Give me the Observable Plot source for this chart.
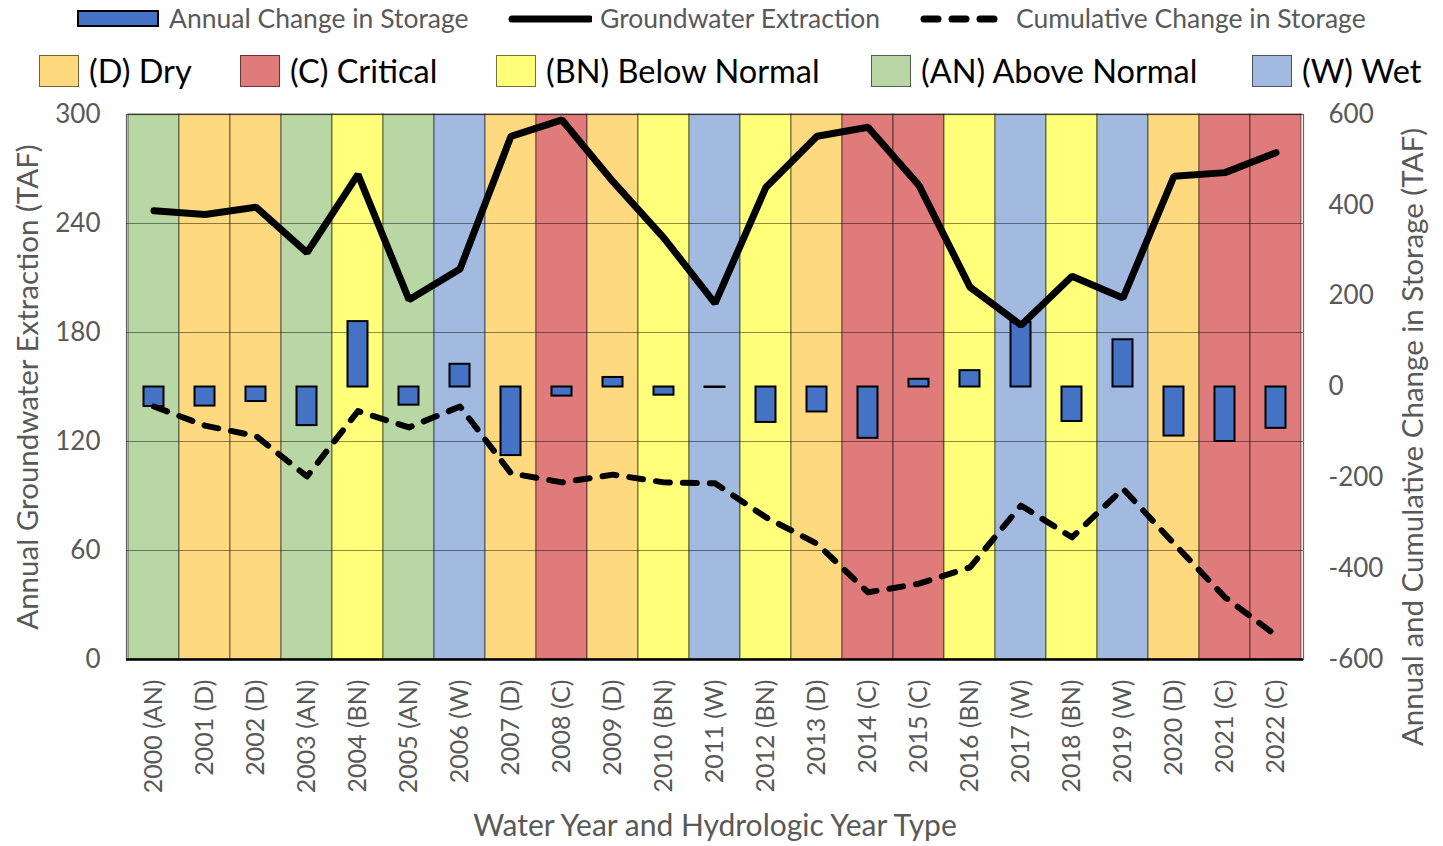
<!DOCTYPE html>
<html>
<head>
<meta charset="utf-8">
<script src="https://cdn.jsdelivr.net/npm/d3@7"></script>
<script src="https://cdn.jsdelivr.net/npm/@observablehq/plot@0.6"></script>
<style>
  html, body { margin: 0; padding: 0; background: #fff; }
  #wrap { position: relative; width: 1443px; height: 846px; font-family: Lato, "Open Sans", sans-serif; }
  #legend1, #legend2 { position: absolute; left: 0; top: 0; width: 1443px; }
  .item { position: absolute; display: flex; align-items: center; white-space: nowrap; }
  .l1 { color: #595959; font-size: 26.5px; }
  .l2 { color: #000; font-size: 32.5px; }
  #chart { position: absolute; left: 0; top: 0; }
</style>
</head>
<body>
<div id="wrap">
  <div id="chart"></div>
  <div id="legend1"></div>
  <div id="legend2"></div>
</div>
<script>
// ---------- DATA ----------
const years = ["2000","2001","2002","2003","2004","2005","2006","2007","2008","2009","2010","2011","2012","2013","2014","2015","2016","2017","2018","2019","2020","2021","2022"];
const yearTypes = ["AN","D","D","AN","BN","AN","W","D","C","D","BN","W","BN","D","C","C","BN","W","BN","W","D","C","C"];
const extraction = [247,245,249,224,267,198,215,288,297,263,232,196,260,288,293,261,205,184,211,199,266,268,279];
const annualChange = [-43,-42,-32,-85,144,-40,50,-151,-20,21,-18,-1,-78,-55,-113,17,36,142,-76,104,-108,-120,-91];
const cumulativeChange = [-43,-85,-108,-197,-53,-89,-43,-190,-210,-193,-210,-212,-287,-345,-452,-433,-397,-261,-331,-224,-345,-463,-547];
const leftTicks = [0,60,120,180,240,300];
const rightTicks = [-600,-400,-200,0,200,400,600];
const typeKeys = ["D","C","BN","AN","W"];
const typeNames = ["(D) Dry","(C) Critical","(BN) Below Normal","(AN) Above Normal","(W) Wet"];
const typeColors = ["#FFD97F","#E07B7C","#FFFF7A","#B9D7A4","#A2B9E0"];
const seriesNames = ["Annual Change in Storage","Groundwater Extraction","Cumulative Change in Storage"];

// ---------- BUILD ----------
const data = years.map((y, i) => ({
  label: `${y} (${yearTypes[i]})`,
  type: yearTypes[i],
  extraction: extraction[i],
  annual: annualChange[i],
  cumulative: cumulativeChange[i]
}));
// map right axis (-600..600) onto left axis domain (0..300)
const toLeft = v => (v + 600) / 4;
const gray = "#595959";
const font = "Lato, 'Open Sans', sans-serif";

const chart = Plot.plot({
  width: 1443,
  height: 846,
  marginTop: 114,
  marginBottom: 187,
  marginLeft: 126,
  marginRight: 140,
  style: { fontFamily: font, background: "transparent" },
  x: { type: "band", domain: data.map(d => d.label), padding: 0, axis: null },
  y: { domain: [0, 300], axis: null },
  color: { type: "ordinal", domain: typeKeys, range: typeColors },
  marks: [
    Plot.barY(data, { x: "label", y1: 0, y2: 300, fill: "type", stroke: "#000", strokeOpacity: 0.45, strokeWidth: 1.2 }),
    Plot.ruleY(leftTicks.slice(1, -1), { stroke: "#000", strokeOpacity: 0.45, strokeWidth: 1.2 }),
    Plot.frame({ stroke: "#000", strokeOpacity: 0.6, strokeWidth: 1.2 }),
    Plot.ruleY([0], { stroke: "#000", strokeWidth: 2.5 }),
    Plot.barY(data, { x: "label", y1: toLeft(0), y2: d => toLeft(d.annual), fill: "#4472C4", stroke: "#000", strokeWidth: 2, insetLeft: 15.5, insetRight: 15.5 }),
    Plot.lineY(data, { x: "label", y: "extraction", stroke: "#000", strokeWidth: 7, strokeLinejoin: "miter", strokeLinecap: "round" }),
    Plot.lineY(data, { x: "label", y: d => toLeft(d.cumulative), stroke: "#000", strokeWidth: 6, strokeDasharray: "14,13", strokeLinecap: "round", strokeLinejoin: "round" }),
    Plot.axisY(leftTicks, { anchor: "left", tickSize: 0, tickPadding: 26, fontSize: 26, color: gray, label: null }),
    Plot.axisY(rightTicks.map(toLeft), { anchor: "right", tickSize: 0, tickPadding: 25, fontSize: 26, color: gray, label: null, tickFormat: d => `${Math.round(d * 4 - 600)}` }),
    Plot.axisX({ anchor: "bottom", tickSize: 0, tickPadding: 20, tickRotate: -90, fontSize: 25, color: gray, label: null }),
    Plot.text(["Annual Groundwater Extraction (TAF)"], { text: d => d, frameAnchor: "left", textAnchor: "middle", rotate: -90, dx: -98, fontSize: 29.5, fill: gray }),
    Plot.text(["Annual and Cumulative Change in Storage (TAF)"], { text: d => d, frameAnchor: "right", textAnchor: "middle", rotate: -90, dx: 110, dy: 50, fontSize: 29.5, fill: gray }),
    Plot.text(["Water Year and Hydrologic Year Type"], { text: d => d, frameAnchor: "bottom", textAnchor: "middle", dy: 176, fontSize: 30, fill: gray })
  ]
});
document.getElementById("chart").appendChild(chart);

// ---------- LEGENDS ----------
const l1 = document.getElementById("legend1");
const l1Pos = [77, 508, 920];
seriesNames.forEach((name, i) => {
  const it = document.createElement("div");
  it.className = "item l1";
  it.style.left = l1Pos[i] + "px";
  it.style.top = "2px";
  const sw = document.createElementNS("http://www.w3.org/2000/svg", "svg");
  sw.setAttribute("width", 84); sw.setAttribute("height", 30);
  if (i === 0) {
    sw.innerHTML = `<rect x="1" y="8" width="80" height="15" fill="#4472C4" stroke="#000" stroke-width="2"/>`;
  } else if (i === 1) {
    sw.innerHTML = `<line x1="4" x2="82" y1="16" y2="16" stroke="#000" stroke-width="7" stroke-linecap="round"/>`;
  } else {
    sw.innerHTML = `<line x1="4" x2="82" y1="16" y2="16" stroke="#000" stroke-width="7" stroke-linecap="round" stroke-dasharray="14,14"/>`;
  }
  it.appendChild(sw);
  const t = document.createElement("span");
  t.textContent = name;
  t.style.marginLeft = (i === 2 ? "12px" : "8px");
  it.appendChild(t);
  l1.appendChild(it);
});

const l2 = document.getElementById("legend2");
const l2Pos = [39, 240, 496, 871, 1252];
typeKeys.forEach((k, i) => {
  const it = document.createElement("div");
  it.className = "item l2";
  it.style.left = l2Pos[i] + "px";
  it.style.top = "51px";
  const sw = document.createElement("div");
  sw.style.width = "38px"; sw.style.height = "30px";
  sw.style.background = typeColors[i];
  sw.style.border = "1.5px solid rgba(0,0,0,0.55)";
  it.appendChild(sw);
  const t = document.createElement("span");
  t.textContent = typeNames[i];
  t.style.marginLeft = "10px";
  it.appendChild(t);
  l2.appendChild(it);
});
</script>
</body>
</html>
